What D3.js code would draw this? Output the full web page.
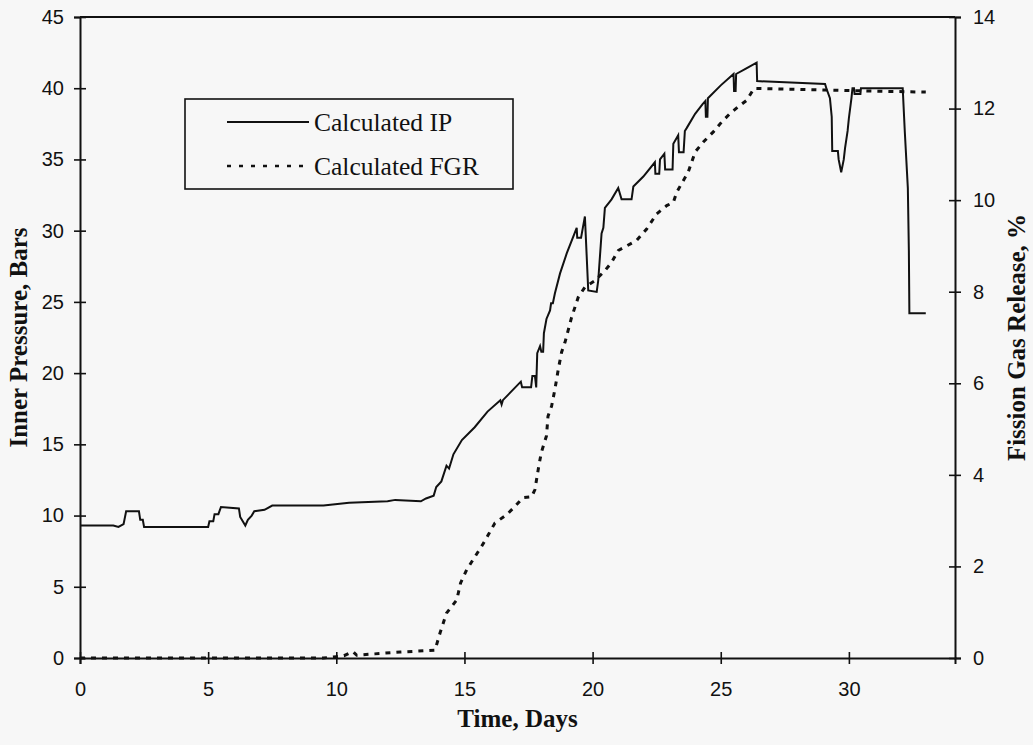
<!DOCTYPE html>
<html>
<head>
<meta charset="utf-8">
<script src="https://cdn.jsdelivr.net/npm/d3@7"></script>
<style>
  html, body { margin: 0; padding: 0; background: #f7f7f7; }
  svg { display: block; }
</style>
</head>
<body>
<svg id="chart" width="1033" height="745"></svg>
<script>
// ---- data ----
const ipDays = [0,1.3,1.5,1.7,1.8,2.3,2.35,2.45,2.5,5.0,5.05,5.2,5.25,5.4,5.5,6.2,6.25,6.35,6.45,6.55,6.7,6.8,7.2,7.5,9.5,10.5,12.0,12.3,13.3,13.5,13.8,13.9,14.1,14.3,14.4,14.57,14.9,15.4,15.9,16.4,16.45,16.5,17.2,17.25,17.6,17.65,17.75,17.8,17.84,17.95,18.0,18.07,18.1,18.2,18.34,18.38,18.45,18.53,18.73,18.99,19.38,19.4,19.55,19.7,19.83,20.16,20.22,20.35,20.42,20.48,20.74,21.0,21.13,21.52,21.59,21.98,22.43,22.45,22.6,22.63,22.8,22.83,23.12,23.15,23.34,23.37,23.55,23.6,23.67,24.0,24.3,24.4,24.42,24.48,24.5,25.0,25.5,25.52,25.58,25.6,26.0,26.4,26.42,29.07,29.12,29.26,29.33,29.35,29.57,29.6,29.7,29.8,29.85,29.95,30.0,30.1,30.14,30.2,30.22,30.45,30.47,32.1,32.18,32.3,32.34,32.36,33.0];
const ipBars = [9.3,9.3,9.2,9.4,10.3,10.3,9.7,9.7,9.2,9.2,9.6,9.6,10.1,10.1,10.6,10.5,9.9,9.6,9.3,9.7,10.0,10.3,10.4,10.7,10.7,10.9,11.0,11.1,11.0,11.2,11.4,12.0,12.4,13.5,13.3,14.3,15.3,16.2,17.3,18.1,17.8,18.1,19.4,19.0,19.0,19.8,19.8,19.0,21.4,21.9,21.5,21.5,22.8,23.8,24.4,24.9,24.9,25.6,27.0,28.4,30.2,29.5,29.5,31.0,25.8,25.7,26.5,29.8,30.2,31.6,32.2,33.0,32.2,32.2,33.1,33.8,34.8,34.0,34.0,35.0,35.4,34.3,34.3,36.1,36.7,35.5,35.5,37.0,37.2,38.2,38.9,39.1,38.0,38.0,39.3,40.2,41.0,39.8,39.8,41.0,41.4,41.8,40.5,40.3,40.0,39.3,38.0,35.6,35.6,35.0,34.1,35.0,35.8,37.0,37.9,39.3,40.0,40.0,39.6,39.6,40.0,40.0,37.0,33.0,28.6,24.2,24.2];

const fgrDays = [0,9.5,10.0,10.3,10.65,10.8,11.5,12.5,13.5,13.85,14.05,14.3,14.7,14.85,15.09,15.34,15.67,15.93,16.19,16.65,16.97,17.28,17.62,17.75,17.9,18.0,18.2,18.26,18.4,18.53,18.66,18.79,18.92,19.18,19.44,19.7,20.09,20.48,20.74,21.0,21.33,21.72,22.11,22.5,22.89,23.15,23.28,23.47,23.73,24.0,24.32,24.71,25.04,25.36,25.68,26.01,26.3,28.0,29.5,31.0,33.0];
const fgrPct = [0,0,0.03,0.05,0.14,0.06,0.09,0.13,0.16,0.17,0.55,0.98,1.27,1.64,1.93,2.15,2.44,2.69,2.95,3.13,3.31,3.5,3.52,3.68,4.19,4.49,4.85,5.28,5.5,5.87,6.3,6.68,6.89,7.44,7.88,8.1,8.24,8.46,8.64,8.9,9.0,9.12,9.37,9.7,9.88,9.95,10.17,10.36,10.61,11.05,11.27,11.49,11.71,11.89,12.04,12.18,12.44,12.42,12.4,12.38,12.36];

const xTicks = [0,5,10,15,20,25,30];
const leftTicks = [0,5,10,15,20,25,30,35,40,45];
const rightTicks = [0,2,4,6,8,10,12,14];
const seriesNames = ["Calculated IP", "Calculated FGR"];
const xTitle = "Time, Days";
const leftTitle = "Inner Pressure, Bars";
const rightTitle = "Fission Gas Release, %";

// ---- layout ----
const L = 80, R = 955, T = 17, B = 658;
const svg = d3.select("#chart");
const x = d3.scaleLinear().domain([0, 34.14]).range([L, R]);
const yL = d3.scaleLinear().domain([0, 45]).range([B, T]);
const yR = d3.scaleLinear().domain([0, 14]).range([B, T]);

const tickFont = "'Liberation Sans', Arial, sans-serif";
const serif = "'Liberation Serif', 'Times New Roman', serif";

// top border
svg.append("line").attr("x1", L).attr("x2", R).attr("y1", T).attr("y2", T)
  .attr("stroke", "#111").attr("stroke-width", 2);

function styleAxis(g, crossAttr) {
  g.select(".domain").attr("stroke", "#111").attr("stroke-width", 2);
  g.selectAll(".tick line").attr("stroke", "#111").attr("stroke-width", 1.6)
    .attr(crossAttr + "1", -6).attr(crossAttr + "2", 6);
  g.selectAll(".tick text").attr("fill", "#111")
    .style("font-family", tickFont).style("font-size", "20px");
}

const gx = svg.append("g").attr("transform", `translate(0,${B})`)
  .call(d3.axisBottom(x).tickValues(xTicks).tickFormat(d3.format("d")).tickSizeOuter(0).tickSize(6).tickPadding(18));
styleAxis(gx, "y");

const gl = svg.append("g").attr("transform", `translate(${L},0)`)
  .call(d3.axisLeft(yL).tickValues(leftTicks).tickFormat(d3.format("d")).tickSizeOuter(0).tickSize(6).tickPadding(10));
styleAxis(gl, "x");

const gr = svg.append("g").attr("transform", `translate(${R},0)`)
  .call(d3.axisRight(yR).tickValues(rightTicks).tickFormat(d3.format("d")).tickSizeOuter(0).tickSize(6).tickPadding(12));
styleAxis(gr, "x");

// ---- series ----
const ipData = ipDays.map((d, i) => [d, ipBars[i]]);
const fgrData = fgrDays.map((d, i) => [d, fgrPct[i]]);

svg.append("path").datum(fgrData)
  .attr("fill", "none").attr("stroke", "#111").attr("stroke-width", 3)
  .attr("stroke-dasharray", "5,6")
  .attr("d", d3.line().x(d => x(d[0])).y(d => yR(d[1])));

svg.append("path").datum(ipData)
  .attr("fill", "none").attr("stroke", "#111").attr("stroke-width", 2)
  .attr("stroke-linejoin", "miter")
  .attr("d", d3.line().x(d => x(d[0])).y(d => yL(d[1])));

// ---- legend ----
const lg = svg.append("g");
lg.append("rect").attr("x", 185).attr("y", 99).attr("width", 328).attr("height", 90)
  .attr("fill", "#f7f7f7").attr("stroke", "#111").attr("stroke-width", 1.6);
lg.append("line").attr("x1", 227).attr("x2", 309).attr("y1", 122).attr("y2", 122)
  .attr("stroke", "#111").attr("stroke-width", 1.8);
lg.append("line").attr("x1", 227).attr("x2", 309).attr("y1", 166).attr("y2", 166)
  .attr("stroke", "#111").attr("stroke-width", 2.6).attr("stroke-dasharray", "4,8");
lg.selectAll("text.leg").data(seriesNames).enter().append("text")
  .attr("x", 314).attr("y", (d, i) => 131 + i * 44)
  .style("font-family", serif).style("font-size", "25.5px").attr("fill", "#111")
  .text(d => d);

// ---- axis titles ----
svg.append("text").attr("x", (L + R) / 2).attr("y", 727).attr("text-anchor", "middle")
  .style("font-family", serif).style("font-weight", "bold").style("font-size", "25px")
  .attr("fill", "#111").text(xTitle);
svg.append("text").attr("transform", `translate(27,${(T + B) / 2}) rotate(-90)`)
  .attr("text-anchor", "middle")
  .style("font-family", serif).style("font-weight", "bold").style("font-size", "25px")
  .attr("fill", "#111").text(leftTitle);
svg.append("text").attr("transform", `translate(1025,${(T + B) / 2}) rotate(-90)`)
  .attr("text-anchor", "middle")
  .style("font-family", serif).style("font-weight", "bold").style("font-size", "25px")
  .attr("fill", "#111").text(rightTitle);
</script>
</body>
</html>
